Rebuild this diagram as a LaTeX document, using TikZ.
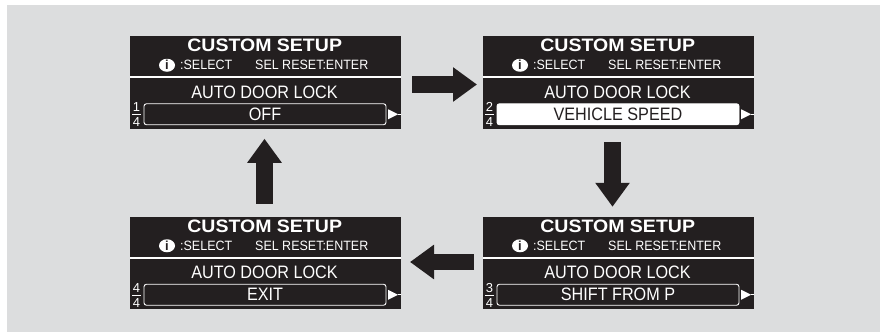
\documentclass[tikz,border=0pt]{standalone}
\usepackage{fontspec}
\setmainfont{Liberation Sans}
\usetikzlibrary{calc}
\usetikzlibrary{arrows.meta}
\usetikzlibrary{shapes.geometric}
\definecolor{panelgray}{HTML}{DCDDDE}
\definecolor{inkblack}{HTML}{231F20}
\tikzset{
  panel/.style={fill=inkblack,minimum width=271pt,minimum height=92.5pt,inner sep=0pt,outer sep=0pt},
  title/.style={text=white,inner sep=0pt,font=\fontsize{18}{18}\selectfont\bfseries,xscale=1.084,transform shape},
  hint/.style={text=white,inner sep=0pt,font=\fontsize{13.5}{13.5}\selectfont,xscale=0.925,transform shape},
  item/.style={inner sep=0pt,font=\fontsize{18}{18}\selectfont,xscale=0.9,transform shape},
  digit/.style={text=white,inner sep=0pt,font=\fontsize{13}{13}\selectfont},
  flow/.style={line width=16.5pt,inkblack,-{Triangle[length=24pt,width=33pt]}}
}
\begin{document}
\begin{tikzpicture}[x=1pt,y=1pt]
  \useasboundingbox (0,0) rectangle (880,-332);
  \fill[panelgray] (7,-5) rectangle (880,-332);

\foreach \nm/\cx/\cy/\num/\val/\bg/\fg in {
  one/265.5/82.5/1/OFF/inkblack/white,
  two/618.5/82.5/2/VEHICLE SPEED/white/inkblack,
  three/618.5/263/3/SHIFT FROM P/inkblack/white,
  four/265.5/263/4/EXIT/inkblack/white}
{
  \node[panel] (\nm) at (\cx,-\cy) {};
  \node[title] (\nm title) at ($(\nm.north)+(-0.8,-9.5)$) {CUSTOM SETUP};
  % select and reset hints
  \node[ellipse,fill=white,minimum width=16pt,minimum height=13pt,inner sep=0pt] (\nm icon) at ($(\nm.north west)+(37,-29)$) {};
  \node[text=inkblack,inner sep=0pt,font=\fontsize{13}{13}\selectfont\bfseries] (\nm i) at (\nm icon) {i};
  \node[hint,anchor=west] (\nm sel) at ($(\nm.north west)+(50,-29)$) {:SELECT};
  \node[hint,anchor=west] (\nm reset) at ($(\nm.north west)+(125,-29)$) {SEL RESET:ENTER};
  \draw[white,line width=2pt] ($(\nm.north west)+(0,-41)$) -- ($(\nm.north east)+(0,-41)$);
  \node[item,text=white] (\nm lock) at ($(\nm.north)+(-1,-56)$) {AUTO DOOR LOCK};
  % value box
  \node[draw=white,line width=0.9pt,fill=\bg,rounded corners=2.5pt,minimum width=242pt,minimum height=21pt,inner sep=0pt] (\nm box) at ($(\nm.north west)+(135,-78)$) {};
  \node[item,text=\fg] (\nm val) at (\nm box) {\val};
  % page fraction
  \node[digit] (\nm top) at ($(\nm.north west)+(6.5,-71)$) {\num};
  \node[digit] (\nm bot) at ($(\nm.north west)+(6.5,-86)$) {4};
  \draw[white,line width=0.8pt] ($(\nm.north west)+(2,-78.5)$) -- ($(\nm.north west)+(11,-78.5)$);
  % next marker
  \fill[white] ($(\nm.north west)+(258,-73)$) -- ($(\nm.north west)+(268,-78)$) -- ($(\nm.north west)+(258,-83)$) -- cycle;
  \draw[white,line width=0.7pt] ($(\nm.north west)+(268,-78)$) -- ($(\nm.north west)+(271,-78)$);
}

\draw[flow,shorten <=11pt,shorten >=6pt] ([yshift=-2pt]one.east) -- ([yshift=-2pt]two.west);
\draw[flow,shorten <=13.5pt,shorten >=10pt] ([xshift=-6pt]two.south) -- ([xshift=-6pt]three.north);
\draw[flow,shorten <=9pt,shorten >=9pt] ([yshift=1pt]three.west) -- ([yshift=1pt]four.east);
\draw[flow,shorten <=13pt,shorten >=10pt] ([xshift=-1pt]four.north) -- ([xshift=-1pt]one.south);
\end{tikzpicture}
\end{document}
